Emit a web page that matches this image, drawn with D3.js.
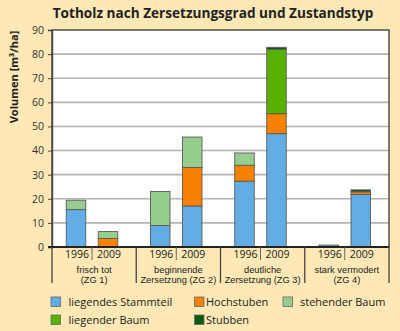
<!DOCTYPE html>
<html><head><meta charset="utf-8">
<script src="https://cdn.jsdelivr.net/npm/d3@7"></script>
<style>
html,body{margin:0;padding:0;background:#FDE8B6;}
svg{display:block;font-family:"Open Sans","Noto Sans",sans-serif;}
</style></head>
<body><svg id="c" width="400" height="331"></svg>
<script>
const title = "Totholz nach Zersetzungsgrad und Zustandstyp";
const yLabel = "Volumen [m³/ha]";
const groups = ["ZG1","ZG2","ZG3","ZG4"];
const groupLabels = [["frisch tot","(ZG 1)"],["beginnende","Zersetzung (ZG 2)"],["deutliche","Zersetzung (ZG 3)"],["stark vermodert","(ZG 4)"]];
const years = ["1996","2009"];
const seriesNames = ["liegendes Stammteil","Hochstuben","stehender Baum","liegender Baum","Stubben"];
const seriesColors = ["#62AEE4","#F98100","#96CE8D","#58B000","#0B5A12"];
// values per bar: ZG1-1996, ZG1-2009, ZG2-1996, ZG2-2009, ZG3-1996, ZG3-2009, ZG4-1996, ZG4-2009
const liegendesStammteil = [15.5, 0, 8.9, 17.0, 27.3, 47.0, 0.8, 21.8];
const hochstuben        = [0, 3.5, 0, 16.0, 6.6, 8.3, 0, 1.1];
const stehenderBaum     = [3.9, 2.9, 14.1, 12.6, 5.1, 0, 0, 0];
const liegenderBaum     = [0, 0, 0, 0, 0, 26.7, 0, 0];
const stubben           = [0, 0, 0, 0, 0, 0.8, 0, 0.8];
const yTicks = [0,10,20,30,40,50,60,70,80,90];

const seriesValues = [liegendesStammteil, hochstuben, stehenderBaum, liegenderBaum, stubben];
const rows = [];
groups.forEach((g,gi)=>years.forEach((y,yi)=>{
  const idx = gi*2+yi; const r = {group:g, year:y};
  seriesNames.forEach((s,si)=>r[s]=seriesValues[si][idx]);
  rows.push(r);
}));

const svg = d3.select("#c");
const L=52, R=389, T=30, B=247;
const x0 = d3.scaleBand().domain(groups).range([L,R]).padding(0);
const x1 = d3.scalePoint().domain(years).range([24,56]);
const bw = 19.5;
const y = d3.scaleLinear().domain([0,90]).range([B,T]);

svg.append("rect").attr("x",L).attr("y",T).attr("width",R-L).attr("height",B-T).attr("fill","#fff");

// grid
svg.append("g").selectAll("line").data(yTicks.filter(t=>t>0&&t<90)).join("line")
  .attr("x1",L).attr("x2",R).attr("y1",d=>y(d)).attr("y2",d=>y(d))
  .attr("stroke","#b4b4b4").attr("stroke-width",1.6);

// bars
const stack = d3.stack().keys(seriesNames)(rows);
svg.append("g").selectAll("g").data(stack).join("g")
  .attr("fill",(d,i)=>seriesColors[i])
  .selectAll("rect").data(d=>d.filter(p=>p[1]-p[0]>0)).join("rect")
  .attr("x",d=>x0(d.data.group)+x1(d.data.year)-bw/2)
  .attr("width",bw)
  .attr("y",d=>y(d[1]))
  .attr("height",d=>y(d[0])-y(d[1]))
  .attr("stroke","#5a5a5a").attr("stroke-width",0.9);

// plot border
svg.append("rect").attr("x",L).attr("y",T).attr("width",R-L).attr("height",B-T)
  .attr("fill","none").attr("stroke","#444").attr("stroke-width",1.4);

// y axis
const yAxis = d3.axisLeft(y).tickValues(yTicks).tickSize(4).tickPadding(4);
const ga = svg.append("g").attr("transform",`translate(${L},0)`).call(yAxis);
ga.select(".domain").attr("stroke","#444").attr("stroke-width",1.4);
ga.selectAll(".tick line").attr("stroke","#444");
ga.selectAll("text").attr("font-size",10.5).attr("fill","#333").attr("font-family","Open Sans");

// x axis line
svg.append("line").attr("x1",L-4).attr("x2",R).attr("y1",B).attr("y2",B).attr("stroke","#222").attr("stroke-width",2);
// group dividers
const divs = groups.map(g=>x0(g)).concat([R]);
svg.append("g").selectAll("line").data(divs).join("line")
  .attr("x1",d=>d).attr("x2",d=>d).attr("y1",B).attr("y2",283)
  .attr("stroke","#444").attr("stroke-width",1.3);
// inner dividers
svg.append("g").selectAll("line").data(groups).join("line")
  .attr("x1",g=>x0(g)+(x1("1996")+x1("2009"))/2).attr("x2",g=>x0(g)+(x1("1996")+x1("2009"))/2)
  .attr("y1",B).attr("y2",260).attr("stroke","#666").attr("stroke-width",1);
// year labels
svg.append("g").selectAll("text").data(rows).join("text")
  .attr("x",d=>x0(d.group)+x1(d.year)+1).attr("y",258)
  .attr("text-anchor","middle").attr("font-size",10.5).attr("fill","#222").text(d=>d.year);
// group labels (one text per line)
const glData = [];
groups.forEach((g,i)=>groupLabels[i].forEach((s,k)=>glData.push({g,k,s})));
svg.append("g").selectAll("text").data(glData).join("text")
  .attr("x",d=>x0(d.g)+x0.bandwidth()/2).attr("y",d=>272.5+d.k*10.5)
  .attr("text-anchor","middle").attr("font-size",9.3).attr("font-family","Liberation Sans, Arial, sans-serif")
  .attr("fill","#222").text(d=>d.s);

// title
svg.append("text").attr("x",213).attr("y",18).attr("text-anchor","middle")
  .attr("font-size",13.6).attr("font-weight","bold").attr("fill","#222").text(title);
// y label
svg.append("text").attr("transform","translate(18,77) rotate(-90)").attr("text-anchor","middle")
  .attr("font-size",11).attr("font-weight","bold").attr("fill","#222").text(yLabel);

// legend
const legPos = [[51,302],[194.5,302],[283,302],[51,320],[194.5,320]];
const lg = svg.append("g").selectAll("g").data(seriesNames).join("g")
  .attr("transform",(d,i)=>`translate(${legPos[i][0]},${legPos[i][1]})`);
lg.append("rect").attr("x",0).attr("y",-5).attr("width",9.5).attr("height",9.5)
  .attr("fill",(d,i)=>seriesColors[i]).attr("stroke","#666").attr("stroke-width",0.8);
lg.append("text").attr("x",(d,i)=>i%3===2?17:(i===1||i===4?11.5:17.5)).attr("y",4)
  .attr("font-size",11).attr("fill","#222").text(d=>d);
</script></body></html>
